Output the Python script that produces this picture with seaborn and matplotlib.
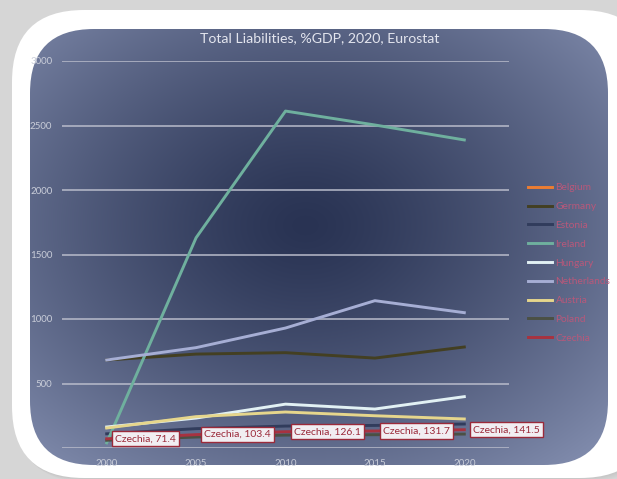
import numpy as np
import pandas as pd
import matplotlib
matplotlib.use("Agg")
import matplotlib.pyplot as plt
from matplotlib.patches import FancyBboxPatch
from matplotlib.lines import Line2D
import seaborn as sns

# ---------------- data ----------------
years = [2000, 2005, 2010, 2015, 2020]
countries = ["Belgium", "Germany", "Estonia", "Ireland", "Hungary",
             "Netherlands", "Austria", "Poland", "Czechia"]
belgium = [np.nan, np.nan, np.nan, np.nan, np.nan]
germany = [682, 728, 739, 697, 783]
estonia = [110, 150, 170, 175, 186]
ireland = [40, 1630, 2612, 2504, 2388]
hungary = [163, 232, 340, 302, 398]
netherlands = [682, 778, 930, 1142, 1049]
austria = [155, 243, 279, 250, 225]
poland = [60, 85, 100, 103, 108]
czechia = [71.4, 103.4, 126.1, 131.7, 141.5]
title = "Total Liabilities, %GDP, 2020, Eurostat"
yticks = [0, 500, 1000, 1500, 2000, 2500, 3000]
ytick_labels = ["", "500", "1000", "1500", "2000", "2500", "3000"]

series = [belgium, germany, estonia, ireland, hungary, netherlands, austria, poland, czechia]
colors = ["#ed7d31", "#433f22", "#313c5c", "#6fb09e", "#e2f1f4",
          "#a6aed4", "#e6d68c", "#4b5044", "#a8323f"]

rows = []
for c, vals in zip(countries, series):
    for y, v in zip(years, vals):
        rows.append({"country": c, "year": y, "value": v})
df = pd.DataFrame(rows)

# ---------------- figure ----------------
W, H = 617, 479
fig = plt.figure(figsize=(W / 100, H / 100), dpi=100)
fig.patch.set_facecolor("#d6d6d6")
plt.rcParams["font.family"] = ["Lato", "DejaVu Sans"]

bg = fig.add_axes([0, 0, 1, 1])
bg.set_xlim(0, W)
bg.set_ylim(H, 0)
bg.axis("off")

# soft shadow + white frame
for i, a in enumerate([0.05, 0.05, 0.06, 0.07]):
    off = 4 - i
    sh = FancyBboxPatch((12 + off, 10 + off), 640, 468,
                        boxstyle="round,pad=0,rounding_size=72",
                        fc="#9a9a9a", ec="none", alpha=a)
    bg.add_patch(sh)
frame = FancyBboxPatch((12, 10), 640, 468, boxstyle="round,pad=0,rounding_size=72",
                       fc="white", ec="none")
bg.add_patch(frame)

# inner radial gradient panel
ix0, iy0, ix1, iy1 = 30, 29, 608, 465
RAD = 64
inner = FancyBboxPatch((ix0, iy0), ix1 - ix0, iy1 - iy0,
                       boxstyle=f"round,pad=0,rounding_size={RAD}",
                       fc="none", ec="none")
bg.add_patch(inner)
yy, xx = np.mgrid[0:H, 0:W]
cx, cy = 305, 225
d = np.sqrt(((xx - cx) / 290.0) ** 2 + ((yy - cy) / 220.0) ** 2)
t = np.clip(d / 1.45, 0, 1) ** 1.3
c0 = np.array([0x29, 0x33, 0x53]) / 255.0
c1 = np.array([0x82, 0x8d, 0xae]) / 255.0
img = c0[None, None, :] + (c1 - c0)[None, None, :] * t[..., None]
im = bg.imshow(img, extent=(0, W, H, 0), zorder=1, interpolation="bilinear")
im.set_clip_path(inner)

# ---------------- main axes ----------------
L, R, T, B = 62, 509, 61, 448
ax = fig.add_axes([L / W, 1 - B / H, (R - L) / W, (B - T) / H])
ax.set_facecolor("none")

pal = dict(zip(countries, colors))
sns.lineplot(data=df, x="year", y="value", hue="country", hue_order=countries,
             palette=pal, linewidth=2.1, legend=False, ax=ax, sort=False)

ax.set_xlim(1997.5, 2022.5)
ax.set_ylim(0, 3000)
ax.set_xticks(years)
ax.set_yticks(yticks)
ax.set_yticklabels(ytick_labels)
ax.set_xlabel("")
ax.set_ylabel("")
for s in ax.spines.values():
    s.set_visible(False)
ax.grid(axis="y", color="#b9bccb", linewidth=1.1)
ax.grid(axis="x", visible=False)
ax.set_axisbelow(True)
ax.tick_params(axis="both", length=0, colors="#c9cdd9", labelsize=7)
ax.tick_params(axis="y", pad=7)
ax.tick_params(axis="x", pad=8)

clip = FancyBboxPatch((ix0, iy0), ix1 - ix0, iy1 - iy0,
                      boxstyle=f"round,pad=0,rounding_size={RAD}",
                      fc="none", ec="none", transform=bg.transData)
for lab in ax.get_xticklabels() + ax.get_yticklabels():
    lab.set_clip_path(clip)

# Czechia data labels
for x, v in zip(years, czechia):
    ax.annotate(f"Czechia, {v:g}", xy=(x, v), xytext=(6, 0), textcoords="offset points",
                ha="left", va="center", fontsize=7.5, color="#9b2a3a",
                annotation_clip=False,
                bbox=dict(boxstyle="square,pad=0.3", fc="#f1eef2", ec="#9b2a3a", lw=1))

# legend
handles = [Line2D([0], [0], color=c, lw=2.1) for c in colors]
leg = fig.legend(handles, countries, loc="upper left",
                 bbox_to_anchor=(519 / W, 1 - 174 / H), frameon=False,
                 fontsize=7.3, labelcolor="#b8587a", handlelength=2.4,
                 handletextpad=0.3, labelspacing=0.96)

fig.text(320 / W, 1 - 38 / H, title, ha="center", va="center",
         fontsize=10.2, color="#e3e5ee")

fig.savefig("out.png", dpi=100, facecolor=fig.get_facecolor())
